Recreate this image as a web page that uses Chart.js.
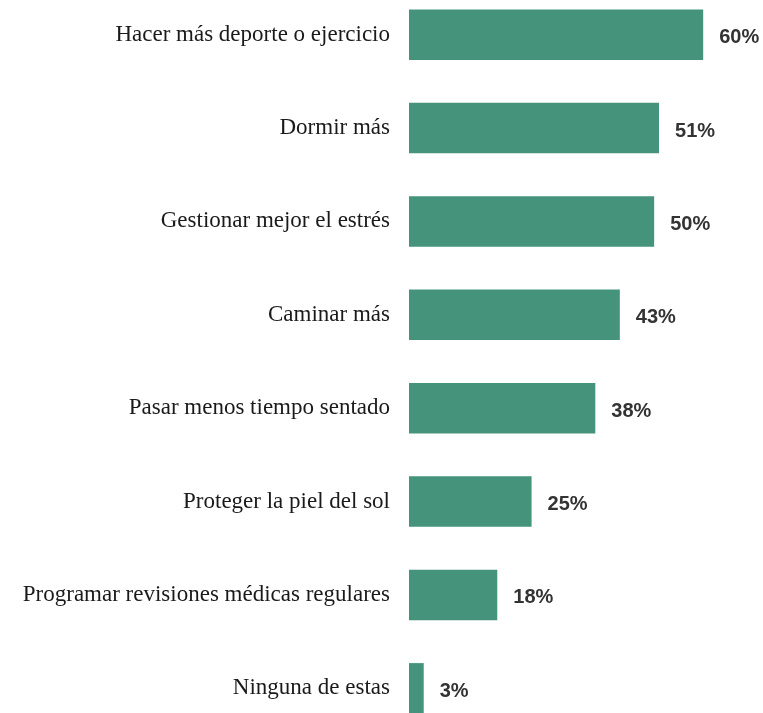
<!DOCTYPE html>
<html>
<head>
<meta charset="utf-8">
<script src="https://cdn.jsdelivr.net/npm/chart.js@4/dist/chart.umd.min.js"></script>
<style>
  html, body { margin: 0; padding: 0; background: #fff; overflow: hidden; }
  #wrap { position: absolute; left: 0; top: -12px; width: 763px; height: 747px; }
</style>
</head>
<body>
<div id="wrap"><canvas id="chart"></canvas></div>
<script>
const categories = [
    'Hacer más deporte o ejercicio',
    'Dormir más',
    'Gestionar mejor el estrés',
    'Caminar más',
    'Pasar menos tiempo sentado',
    'Proteger la piel del sol',
    'Programar revisiones médicas regulares',
    'Ninguna de estas'
];
const values = [60, 51, 50, 43, 38, 25, 18, 3];

// value labels to the right of each bar
const valueLabels = {
    id: 'valueLabels',
    afterDatasetsDraw(chart) {
        const ctx = chart.ctx;
        const meta = chart.getDatasetMeta(0);
        ctx.save();
        ctx.font = 'bold 20px "Liberation Sans", Arial, sans-serif';
        ctx.fillStyle = '#333333';
        ctx.textAlign = 'left';
        ctx.textBaseline = 'middle';
        meta.data.forEach((bar, i) => {
            ctx.fillText(values[i] + '%', bar.x + 16, bar.y + 3);
        });
        ctx.restore();
    }
};

new Chart(document.getElementById('chart'), {
    type: 'bar',
    data: {
        labels: categories,
        datasets: [{
            data: values,
            backgroundColor: '#45937a',
            borderWidth: 0,
            barPercentage: 0.54,
            categoryPercentage: 1
        }]
    },
    options: {
        indexAxis: 'y',
        responsive: true,
        maintainAspectRatio: false,
        animation: false,
        layout: { padding: 0 },
        plugins: {
            legend: { display: false },
            tooltip: { enabled: false }
        },
        scales: {
            x: {
                display: false,
                min: 0,
                max: 72.2
            },
            y: {
                grid: { display: false, drawTicks: false },
                border: { display: false },
                ticks: {
                    padding: 19,
                    color: '#1a1a1a',
                    font: { family: '"Liberation Serif", "Times New Roman", serif', size: 23 }
                },
                afterFit(scale) {
                    scale.width = 409;
                    scale.paddingTop = 0;
                    scale.paddingBottom = 0;
                }
            }
        }
    },
    plugins: [valueLabels]
});
</script>
</body>
</html>
